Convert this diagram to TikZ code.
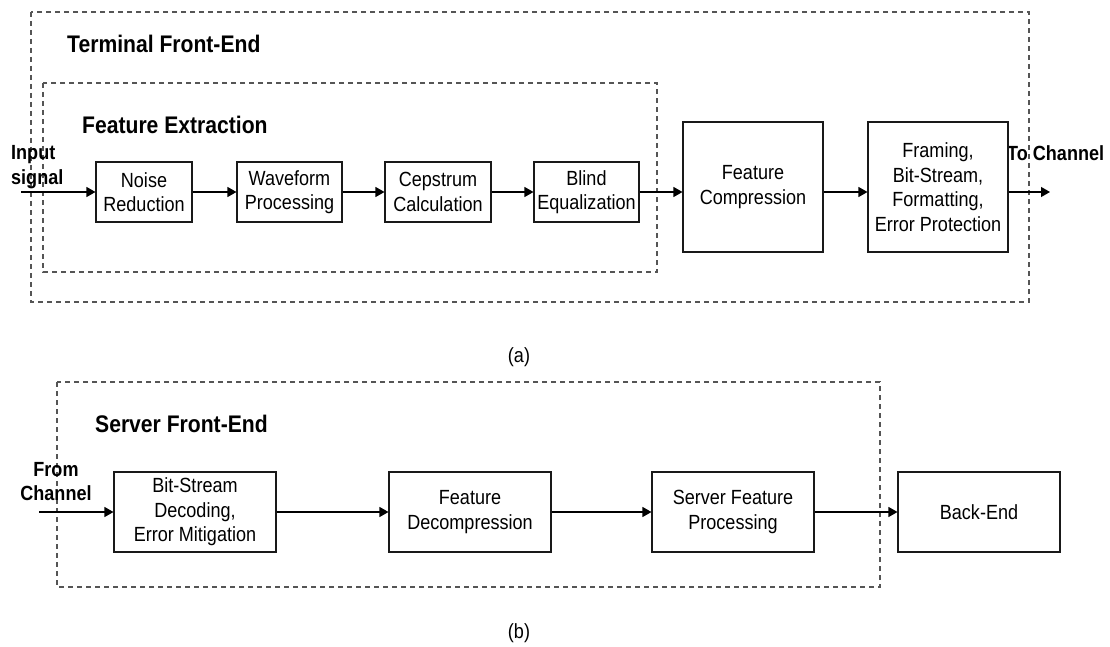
\documentclass[tikz,border=0pt]{standalone}
\usepackage{fontspec}
\setmainfont{Liberation Sans}[FakeStretch=0.88]
\usetikzlibrary{arrows.meta}
\definecolor{dashgray}{HTML}{555555}
\begin{document}
\begin{tikzpicture}[x=1pt,y=-1pt,
  blk/.style={draw=black!90, line width=1.1pt, inner sep=0pt, align=center,
              font=\fontsize{20.5}{24.5}\selectfont},
  arr/.style={line width=1.2pt, -{Triangle[length=9pt,width=10pt]}},
  dashbox/.style={draw=dashgray, line width=1.1pt, dash pattern=on 5pt off 4pt},
  head/.style={font=\fontsize{24}{28}\selectfont\bfseries, inner sep=0pt},
  lbl/.style={font=\fontsize{20.5}{25}\selectfont\bfseries, inner sep=0pt},
  subcap/.style={font=\fontsize{20.5}{24}\selectfont, inner sep=0pt}]
\useasboundingbox[fill=white] (0,0) rectangle (1110,647);

% ---------- (a) terminal front-end ----------
\draw[dashbox] (31,12) rectangle (1029,302);
\draw[dashbox] (43,83) rectangle (657,272);
\node[head, anchor=west] (tfe) at (67,44) {Terminal Front-End};
\node[head, anchor=west] (fex) at (82,125) {Feature Extraction};

\node[lbl, anchor=west, align=left] (inlbl) at (11,167) {Input\\signal};
\node[lbl, anchor=west] (tolbl) at (1007,153) {To Channel};

\node[blk, minimum width=96, minimum height=60] (nr) at (144,192) {Noise\\Reduction};
\node[blk, minimum width=105, minimum height=60] (wp) at (289.5,192) {Waveform\\Processing};
\node[blk, minimum width=106, minimum height=60] (cc) at (438,192) {Cepstrum\\Calculation};
\node[blk, minimum width=105, minimum height=60] (be) at (586.5,192) {Blind\\Equalization};
\node[blk, minimum width=140, minimum height=130] (fc) at (753,187) {Feature\\Compression};
\node[blk, minimum width=140, minimum height=130] (fr) at (938,187)
  {Framing,\\Bit-Stream,\\Formatting,\\Error Protection};

\coordinate (ain) at (21,192);
\coordinate (aout) at (1050,192);
\draw[arr] (ain) -- (nr);
\draw[arr] (nr) -- (wp);
\draw[arr] (wp) -- (cc);
\draw[arr] (cc) -- (be);
\draw[arr] (be.east) -- (be.east -| fc.west);
\draw[arr] (fc.east |- be.east) -- (be.east -| fr.west);
\draw[arr] (fr.east |- be.east) -- (aout);

\node[subcap] (capa) at (519,357) {(a)};

% ---------- (b) server front-end ----------
\draw[dashbox] (57,382) rectangle (880,587);
\node[head, anchor=west] (sfe) at (95,424) {Server Front-End};
\node[lbl, align=center, font=\fontsize{20.5}{24}\selectfont\bfseries] (fromlbl) at (56,482) {From\\Channel};

\node[blk, minimum width=162, minimum height=80] (bsd) at (195,512) {Bit-Stream\\Decoding,\\Error Mitigation};
\node[blk, minimum width=162, minimum height=80] (fdc) at (470,512) {Feature\\Decompression};
\node[blk, minimum width=162, minimum height=80] (sfp) at (733,512) {Server Feature\\Processing};
\node[blk, minimum width=162, minimum height=80] (bke) at (979,512) {Back-End};

\coordinate (bin) at (39,512);
\draw[arr] (bin) -- (bsd);
\draw[arr] (bsd) -- (fdc);
\draw[arr] (fdc) -- (sfp);
\draw[arr] (sfp) -- (bke);

\node[subcap] (capb) at (519,633) {(b)};
\end{tikzpicture}
\end{document}
